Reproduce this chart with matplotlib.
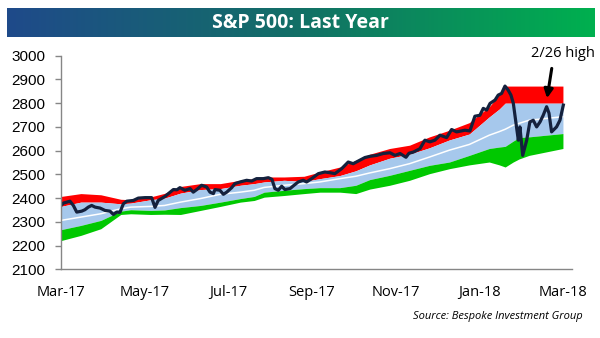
import matplotlib
matplotlib.use('Agg')
import matplotlib.pyplot as plt
import numpy as np
from matplotlib.colors import LinearSegmentedColormap

# Price (trading-day index, level)
price_day = [0, 1.2, 2.9, 4.5, 6.2, 7.9, 10.4, 12.0, 13.7, 15.4, 17.1, 19.6, 22.1, 24.6, 26.3, 28.0,
             29.6, 31.3, 33.0, 36.3, 38.8, 42.2, 45.5, 47.2, 48.8, 52.2, 56.4, 58.2, 59.7, 62.2, 64.8,
             66.4, 68.3, 70.6, 73.1, 74.8, 76.5, 77.3, 79.8, 81.5, 83.2, 85.7, 87.3, 89.9, 93.2, 95.7,
             98.2, 101.6, 104.1, 105.9, 107.4, 109.1, 110.8, 112.4, 115.0, 117.0, 119.1, 121.6, 123.3,
             125.8, 129.2, 132.5, 135.0, 137.5, 140.9, 144.2, 146.7, 149.2, 152.6, 155.1, 158.5, 161.8,
             165.2, 167.7, 170.2, 173.2, 174.7, 176.9, 180.2, 182.7, 185.2, 187.7, 190.3, 193.6, 196.1,
             198.6, 202.8, 205.3, 207.8, 210.3, 212.0, 213.7, 215.4, 217.9, 219.5, 221.2, 222.9, 224.5,
             225.9, 227.1, 228.8, 229.6, 230.4, 231.8, 233.8, 235.4, 237.1, 238.8, 240.5, 242.1, 243.8,
             245.0, 246.3, 248.8, 250.5, 252.2]
price = [2369, 2379, 2383, 2387, 2369, 2341, 2345, 2351, 2362, 2369, 2362, 2358, 2348, 2345, 2331, 2341,
         2340, 2376, 2387, 2390, 2400, 2402, 2402, 2361, 2390, 2407, 2436, 2435, 2444, 2433, 2440,
         2425, 2437, 2454, 2447, 2425, 2419, 2436, 2433, 2416, 2425, 2444, 2461, 2468, 2475, 2472,
         2482, 2482, 2486, 2479, 2440, 2433, 2450, 2436, 2440, 2454, 2468, 2475, 2468,
         2482, 2503, 2510, 2507, 2503, 2524, 2552, 2545, 2556, 2571, 2576, 2580, 2588,
         2591, 2580, 2588, 2572, 2589, 2594, 2608, 2644, 2637, 2644, 2665, 2655, 2689,
         2679, 2686, 2683, 2745, 2749, 2778, 2771, 2799, 2813, 2834, 2841, 2872, 2855,
         2834, 2799, 2693, 2644, 2700, 2580, 2644, 2721, 2728, 2700, 2721, 2749, 2785,
         2758, 2679, 2700, 2728, 2792]

# Trading range bands
band_day = [0, 10, 20, 30, 35, 45, 52, 60, 70, 80, 90, 97, 102, 112, 122, 130, 140, 148, 155,
            165, 175, 185, 195, 205, 215, 220, 223, 227, 230, 235, 252]
upper2 = [2407, 2419, 2414, 2395, 2393, 2405, 2420, 2449, 2461, 2461, 2475, 2482, 2489, 2489, 2492,
          2510, 2531, 2559, 2585, 2609, 2623, 2658, 2686, 2718, 2785, 2835, 2872, 2872, 2872, 2872, 2872]
upper1 = [2365, 2383, 2383, 2376, 2379, 2393, 2400, 2421, 2436, 2440, 2454, 2461, 2468, 2475, 2470,
          2482, 2495, 2515, 2540, 2568, 2585, 2612, 2645, 2670, 2742, 2775, 2800, 2800, 2800, 2800, 2800]
ma50 = [2306, 2320, 2334, 2355, 2362, 2365, 2369, 2383, 2398, 2416, 2425, 2433, 2445, 2454, 2461,
        2468, 2482, 2492, 2506, 2524, 2545, 2573, 2602, 2626, 2665, 2680, 2690, 2707, 2715, 2728, 2743]
lower1 = [2267, 2285, 2306, 2345, 2351, 2348, 2350, 2360, 2369, 2383, 2398, 2407, 2425, 2433, 2440,
          2444, 2444, 2454, 2478, 2496, 2517, 2538, 2552, 2580, 2609, 2615, 2618, 2640, 2655, 2658, 2672]
lower2 = [2221, 2243, 2271, 2331, 2334, 2331, 2332, 2331, 2348, 2365, 2383, 2390, 2404, 2411, 2419,
          2425, 2425, 2419, 2438, 2454, 2475, 2503, 2524, 2540, 2552, 2540, 2531, 2552, 2565, 2580, 2609]

tick_days = [0, 42, 84, 126, 168, 210, 252]
tick_labels = ['Mar-17', 'May-17', 'Jul-17', 'Sep-17', 'Nov-17', 'Jan-18', 'Mar-18']
y_ticks = list(range(2100, 3001, 100))

fig = plt.figure(figsize=(6, 3.38), dpi=100)

# title bar with blue->green gradient
tax = fig.add_axes([7 / 600, 1 - 37 / 338, 587 / 600, 29 / 338])
cmap = LinearSegmentedColormap.from_list('bar', ['#1f4a8a', '#127066', '#00b04f'])
tax.imshow(np.linspace(0, 1, 256).reshape(1, -1), aspect='auto', cmap=cmap, extent=[0, 1, 0, 1])
tax.set_axis_off()
tax.text(0.5, 0.48, 'S&P 500: Last Year', color='white', fontsize=14, fontweight='bold',
         family='Open Sans', ha='center', va='center', transform=tax.transAxes)

ax = fig.add_axes([61 / 600, (338 - 269.3) / 338, (571.7 - 61) / 600, (269.3 - 55.7) / 338])
ax.fill_between(band_day, upper1, upper2, color='#ff0000', lw=0)
ax.fill_between(band_day, lower1, upper1, color='#a6c8ec', lw=0)
ax.fill_between(band_day, lower2, lower1, color='#00c800', lw=0)
ax.plot(band_day, ma50, color='white', lw=1.1)
ax.plot(price_day, price, color='#14213d', lw=2.3, solid_joinstyle='round')

ax.set_xlim(0, 256.4)
ax.set_ylim(2100, 3000)
ax.set_xticks(tick_days)
ax.set_xticklabels(tick_labels, family='Open Sans', fontsize=10.5)
ax.set_yticks(y_ticks)
ax.set_yticklabels([str(v) for v in y_ticks], family='Liberation Sans', fontsize=11)
ax.tick_params(axis='x', length=0, pad=11)
ax.tick_params(axis='y', length=4.5, width=1, color='#868686', pad=7)
for s in ['top', 'right']:
    ax.spines[s].set_visible(False)
for s in ['left', 'bottom']:
    ax.spines[s].set_color('#868686')
    ax.spines[s].set_linewidth(1)

# 2/26 high callout
ax.annotate('', xy=(243.8, 2809), xytext=(246.6, 2958), annotation_clip=False,
            arrowprops=dict(arrowstyle='-|>', lw=2.2, color='black', mutation_scale=13))
ax.text(251.8, 3011, '2/26 high', ha='center', va='center', family='Open Sans',
        fontsize=10.5, clip_on=False)

fig.text(583 / 600, 1 - 317 / 338, 'Source: Bespoke Investment Group', ha='right', va='center',
         family='Open Sans', style='italic', fontsize=8)

fig.savefig('out.png', dpi=100)
